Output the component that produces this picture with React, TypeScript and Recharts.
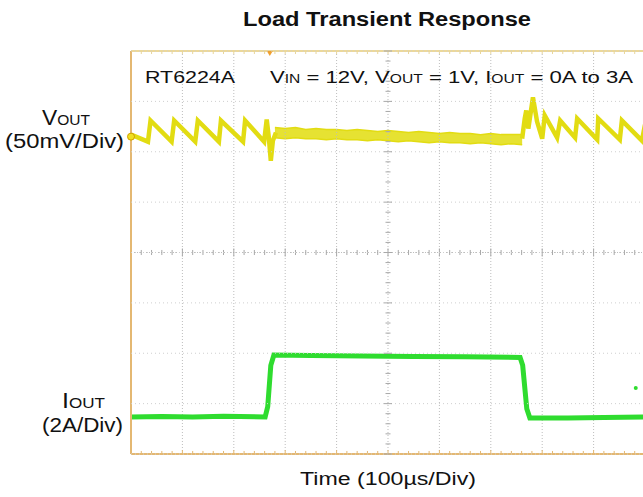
import { ComposedChart, Line, Area, XAxis, YAxis, ReferenceLine, ReferenceDot } from 'recharts';

// time axis in µs (100µs/Div, 10 divisions)
const divTicks = [0, 100, 200, 300, 400, 500, 600, 700, 800, 900, 1000];
const yDivTicks = [0, 1, 2, 3, 4, 5, 6, 7, 8];

// VOUT, AC coupled deviation in mV (50mV/Div)
const voutBefore = [
  { t: 0, v: 2 }, { t: 33, v: -5 }, { t: 38, v: 16 }, { t: 79, v: -5 }, { t: 84, v: 16 },
  { t: 125, v: -5 }, { t: 130, v: 16 }, { t: 171, v: -5 }, { t: 175, v: 16 },
  { t: 218, v: -5 }, { t: 222, v: 16 }, { t: 259, v: -5 }, { t: 264, v: 17 },
  { t: 268, v: 0 }, { t: 272, v: -24 }, { t: 276, v: -4 }, { t: 282, v: 4 },
];

// steady band under load (noise envelope, mV)
const voutBand = [
  { t: 280, lo: -1, hi: 9 }, { t: 300, lo: -2, hi: 8 }, { t: 320, lo: -1, hi: 9 },
  { t: 340, lo: -2, hi: 7 }, { t: 360, lo: -2, hi: 8 }, { t: 380, lo: -3, hi: 7 },
  { t: 400, lo: -2, hi: 7 }, { t: 420, lo: -3, hi: 6 }, { t: 440, lo: -3, hi: 7 },
  { t: 460, lo: -4, hi: 6 }, { t: 480, lo: -3, hi: 5 }, { t: 500, lo: -4, hi: 6 },
  { t: 520, lo: -5, hi: 5 }, { t: 540, lo: -4, hi: 4 }, { t: 560, lo: -5, hi: 5 },
  { t: 580, lo: -6, hi: 4 }, { t: 600, lo: -5, hi: 3 }, { t: 620, lo: -6, hi: 4 },
  { t: 640, lo: -6, hi: 3 }, { t: 660, lo: -7, hi: 3 }, { t: 680, lo: -6, hi: 2 },
  { t: 700, lo: -7, hi: 3 }, { t: 720, lo: -8, hi: 2 }, { t: 740, lo: -7, hi: 2 },
  { t: 761, lo: -8, hi: 2 },
];

const voutAfter = [
  { t: 761, v: -2 }, { t: 766, v: 18 }, { t: 769, v: 26 }, { t: 773, v: 8 },
  { t: 782, v: 39 }, { t: 790, v: 15 }, { t: 800, v: -2 }, { t: 805, v: 21 },
  { t: 829, v: -1 }, { t: 835, v: 16 }, { t: 864, v: -1 }, { t: 868, v: 18 },
  { t: 907, v: -3 }, { t: 909, v: 18 }, { t: 951, v: -3 }, { t: 955, v: 16 },
  { t: 994, v: -4 }, { t: 1000, v: 12 },
];

// IOUT in A (0A to 3A step)
const ioutTrace = [
  { t: 0, i: 0 }, { t: 60, i: 0.03 }, { t: 120, i: 0 }, { t: 180, i: 0.04 },
  { t: 261, i: 0 }, { t: 266, i: 0.5 }, { t: 272, i: 2.5 }, { t: 278, i: 3.0 },
  { t: 350, i: 2.98 }, { t: 450, i: 2.95 }, { t: 550, i: 2.93 }, { t: 650, i: 2.91 },
  { t: 757, i: 2.88 }, { t: 762, i: 2.5 }, { t: 770, i: 0.4 }, { t: 776, i: -0.05 },
  { t: 850, i: -0.05 }, { t: 920, i: -0.02 }, { t: 1000, i: 0 },
];

const minorX: number[] = [];
for (let k = 0; k <= 50; k++) minorX.push(k * 20);
const minorY: number[] = [];
for (let k = 0; k <= 40; k++) minorY.push(+(k * 0.2).toFixed(1));

const M = { top: 51, right: 1, bottom: 43, left: 131 };
const W = 646;
const H = 497;
const PW = W - M.left - M.right;
const CX = M.left + PW / 2;

const frame = '#e4b872';
const yellow = '#e2dc12';
const green = '#2fdc2f';

const CenterYTick = (props: any) => {
  const { y, payload } = props;
  const h = Math.abs(payload.value - Math.round(payload.value)) < 0.01 ? 4 : 2.5;
  return <line x1={CX - h} x2={CX + h} y1={y} y2={y} stroke="#a8a8a8" strokeWidth={1} />;
};

const GridYTick = (props: any) => {
  const { y } = props;
  return <line x1={M.left} x2={M.left + PW} y1={y} y2={y} stroke="#cfcfcf" strokeDasharray="1 3" />;
};

const Trigger = (props: any) => (
  <path d={`M${props.cx - 3},${props.cy} L${props.cx + 3},${props.cy} L${props.cx},${props.cy + 5} Z`} fill="#f0a030" />
);

export default function App() {
  const font = '"Liberation Sans", Arial, sans-serif';
  const ax = { xAxisId: 'x', yAxisId: 'grid', ifOverflow: 'visible' as const };
  return (
    <div style={{ position: 'absolute', left: 0, top: 0, width: 643, height: 497, overflow: 'hidden', background: '#fff' }}>
      <ComposedChart width={W} height={H} margin={M}>
        <XAxis xAxisId="x" type="number" dataKey="t" domain={[0, 1000]} allowDataOverflow ticks={divTicks} interval={0}
          orientation="bottom" mirror height={1} tick={false} tickLine={false} axisLine={{ stroke: frame, strokeWidth: 2 }} />
        <YAxis yAxisId="yg" type="number" domain={[0, 8]} allowDataOverflow ticks={yDivTicks} interval={0} orientation="right" mirror
          width={1} tick={<GridYTick />} tickLine={false} axisLine={false} />
        <YAxis yAxisId="grid" type="number" domain={[0, 8]} allowDataOverflow ticks={yDivTicks} interval={0} orientation="left" mirror
          width={1} tick={false} tickSize={4} tickLine={{ stroke: frame }} axisLine={{ stroke: frame, strokeWidth: 2 }} />
        <YAxis yAxisId="yl" type="number" domain={[0, 8]} allowDataOverflow ticks={minorY} interval={0} orientation="left" mirror
          width={1} tick={false} tickSize={3} tickLine={{ stroke: frame }} axisLine={false} />
        <YAxis yAxisId="yr" type="number" domain={[0, 8]} allowDataOverflow ticks={minorY} interval={0} orientation="right" mirror
          width={1} tick={false} tickSize={4} tickLine={{ stroke: '#d8d8d8' }} axisLine={false} />
        <YAxis yAxisId="yc" type="number" domain={[0, 8]} allowDataOverflow ticks={minorY} interval={0} orientation="right" mirror
          width={1} tick={<CenterYTick />} tickLine={false} axisLine={false} />
        <YAxis yAxisId="v" type="number" domain={[-315, 85]} allowDataOverflow hide />
        <YAxis yAxisId="i" type="number" domain={[-1.79, 17.71]} allowDataOverflow hide />

        {/* vertical division grid */}
        {divTicks.slice(1, -1).map((t) => (
          <ReferenceLine key={`g${t}`} {...ax} x={t} stroke="#bdbdbd" strokeDasharray="1 2" />
        ))}
        <ReferenceLine {...ax} y={4} stroke="#bdbdbd" strokeDasharray="1 2" />
        <ReferenceLine {...ax} y={8} stroke="#ecd89a" strokeWidth={2} />
        {/* minor ticks on top/bottom frame and centre line */}
        {minorX.map((t) => (
          <ReferenceLine key={`b${t}`} {...ax} segment={[{ x: t, y: 0 }, { x: t, y: t % 100 === 0 ? 0.08 : 0.06 }]} stroke={frame} />
        ))}
        {minorX.map((t) => (
          <ReferenceLine key={`t${t}`} {...ax} segment={[{ x: t, y: 8 }, { x: t, y: 7.94 }]} stroke="#e8d69a" />
        ))}
        {minorX.map((t) => (
          <ReferenceLine key={`c${t}`} {...ax}
            segment={[{ x: t, y: t % 100 === 0 ? 3.92 : 3.95 }, { x: t, y: t % 100 === 0 ? 4.08 : 4.05 }]} stroke="#a8a8a8" />
        ))}

        <Area xAxisId="x" yAxisId="v" data={voutBand} dataKey={(d: any) => [d.lo, d.hi]} type="linear"
          stroke={yellow} strokeWidth={1.5} fill="#e6e232" fillOpacity={1} isAnimationActive={false} />
        <Line xAxisId="x" yAxisId="v" data={voutBefore} dataKey="v" type="linear" stroke={yellow} strokeWidth={4.5}
          dot={false} isAnimationActive={false} />
        <Line xAxisId="x" yAxisId="v" data={voutAfter} dataKey="v" type="linear" stroke={yellow} strokeWidth={4.5}
          dot={false} isAnimationActive={false} />
        <Line xAxisId="x" yAxisId="i" data={ioutTrace} dataKey="i" type="linear" stroke={green} strokeWidth={5}
          dot={false} isAnimationActive={false} />
        <ReferenceDot xAxisId="x" yAxisId="v" x={0} y={0} r={3.5} fill="#f0e020" stroke="#d0a000" strokeWidth={1} />
        <ReferenceDot xAxisId="x" yAxisId="i" x={982} y={1.4} r={2} fill={green} stroke="none" />
        <ReferenceDot xAxisId="x" yAxisId="grid" x={270} y={8} r={3} shape={<Trigger />} />
      </ComposedChart>
      <svg width={643} height={497} style={{ position: 'absolute', left: 0, top: 0, pointerEvents: 'none', fontFamily: font }}>
        <text x={243} y={26} fontSize={20} fontWeight="bold" textLength={288} lengthAdjust="spacingAndGlyphs" fill="#111">
          Load Transient Response
        </text>
        <text x={300} y={485} fontSize={18} textLength={176} lengthAdjust="spacingAndGlyphs" fill="#111">
          Time  (100µs/Div)
        </text>
        <text x={42} y={125} fontSize={22} textLength={48} lengthAdjust="spacingAndGlyphs" fill="#111">
          V<tspan fontSize={15}>OUT</tspan>
        </text>
        <text x={5} y={147.5} fontSize={20} textLength={119} lengthAdjust="spacingAndGlyphs" fill="#111">
          (50mV/Div)
        </text>
        <text x={62} y={408} fontSize={22} textLength={43} lengthAdjust="spacingAndGlyphs" fill="#111">
          I<tspan fontSize={15}>OUT</tspan>
        </text>
        <text x={42} y={432} fontSize={20} textLength={81} lengthAdjust="spacingAndGlyphs" fill="#111">
          (2A/Div)
        </text>
        <text x={145} y={83} fontSize={17} textLength={90} lengthAdjust="spacingAndGlyphs" fill="#111">
          RT6224A
        </text>
        <text x={270} y={83} fontSize={17} textLength={363} lengthAdjust="spacingAndGlyphs" fill="#111">
          V<tspan fontSize={12}>IN</tspan> = 12V, V<tspan fontSize={12}>OUT</tspan> = 1V, I<tspan fontSize={12}>OUT</tspan> = 0A to 3A
        </text>
      </svg>
    </div>
  );
}
